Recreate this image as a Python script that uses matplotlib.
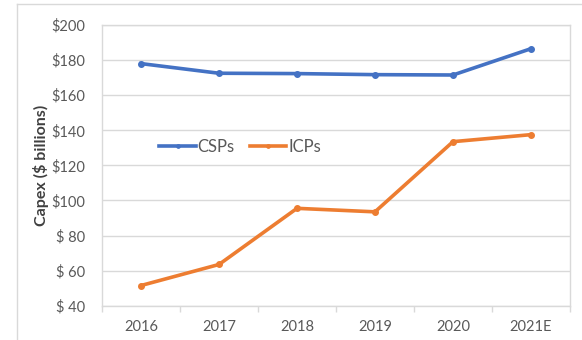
import matplotlib.pyplot as plt
from matplotlib.lines import Line2D
from matplotlib.ticker import FixedLocator

years = ['2016', '2017', '2018', '2019', '2020', '2021E']
csps = [178, 172.5, 172.3, 171.7, 171.5, 186.5]
icps = [51.5, 63.5, 95.5, 93.5, 133.5, 137.5]
yticks = [40, 60, 80, 100, 120, 140, 160, 180, 200]
ytick_labels = ['$ 40', '$ 60', '$ 80', '$100', '$120', '$140', '$160', '$180', '$200']

plt.rcParams['font.family'] = ['Lato', 'DejaVu Sans']
grid_c = '#D9D9D9'
text_c = '#595959'

fig = plt.figure(figsize=(5.82, 3.4), dpi=100)
ax = fig.add_axes([102 / 582, 1 - 305.7 / 340, 468 / 582, 280.7 / 340])

# outer chart frame (only left and top edges visible)
fig.add_artist(Line2D([16.5 / 582, 16.5 / 582], [0, 1 - 4 / 340], color=grid_c, lw=1,
                      transform=fig.transFigure))
fig.add_artist(Line2D([16.5 / 582, 1], [1 - 4 / 340, 1 - 4 / 340], color=grid_c, lw=1,
                      transform=fig.transFigure))

x = list(range(len(years)))
ax.plot(x, csps, color='#4472C4', lw=2.6, marker='o', ms=4, label='CSPs', zorder=3)
ax.plot(x, icps, color='#ED7D31', lw=2.6, marker='o', ms=4, label='ICPs', zorder=3)

ax.set_xlim(-0.5, len(years) - 0.5)
ax.set_ylim(40, 200)
ax.set_yticks(yticks)
ax.set_yticklabels(ytick_labels)
ax.set_xticks(x)
ax.set_xticklabels(years)
ax.xaxis.set_minor_locator(FixedLocator([i - 0.5 for i in range(len(years) + 1)]))

ax.grid(axis='y', color=grid_c, lw=1)
ax.set_axisbelow(True)
for s in ax.spines.values():
    s.set_color(grid_c)
    s.set_linewidth(1)

ax.tick_params(axis='y', length=0, pad=12, labelsize=10.5, labelcolor=text_c)
ax.tick_params(axis='x', which='major', length=0, pad=10, labelsize=10.5, labelcolor=text_c)
ax.tick_params(axis='x', which='minor', length=4, color=grid_c, width=1)

ax.set_ylabel('Capex ($ billions)', fontsize=11.5, fontweight='bold', color='#404040', labelpad=2)

leg = ax.legend(loc='center', bbox_to_anchor=((240 - 102) / 468, (305.7 - 147) / 280.7), ncol=2,
                frameon=False, fontsize=12, handlelength=2.2, handletextpad=0.1,
                columnspacing=0.9, markerscale=0.6)
for t in leg.get_texts():
    t.set_color(text_c)

fig.savefig('out.png', dpi=100)
